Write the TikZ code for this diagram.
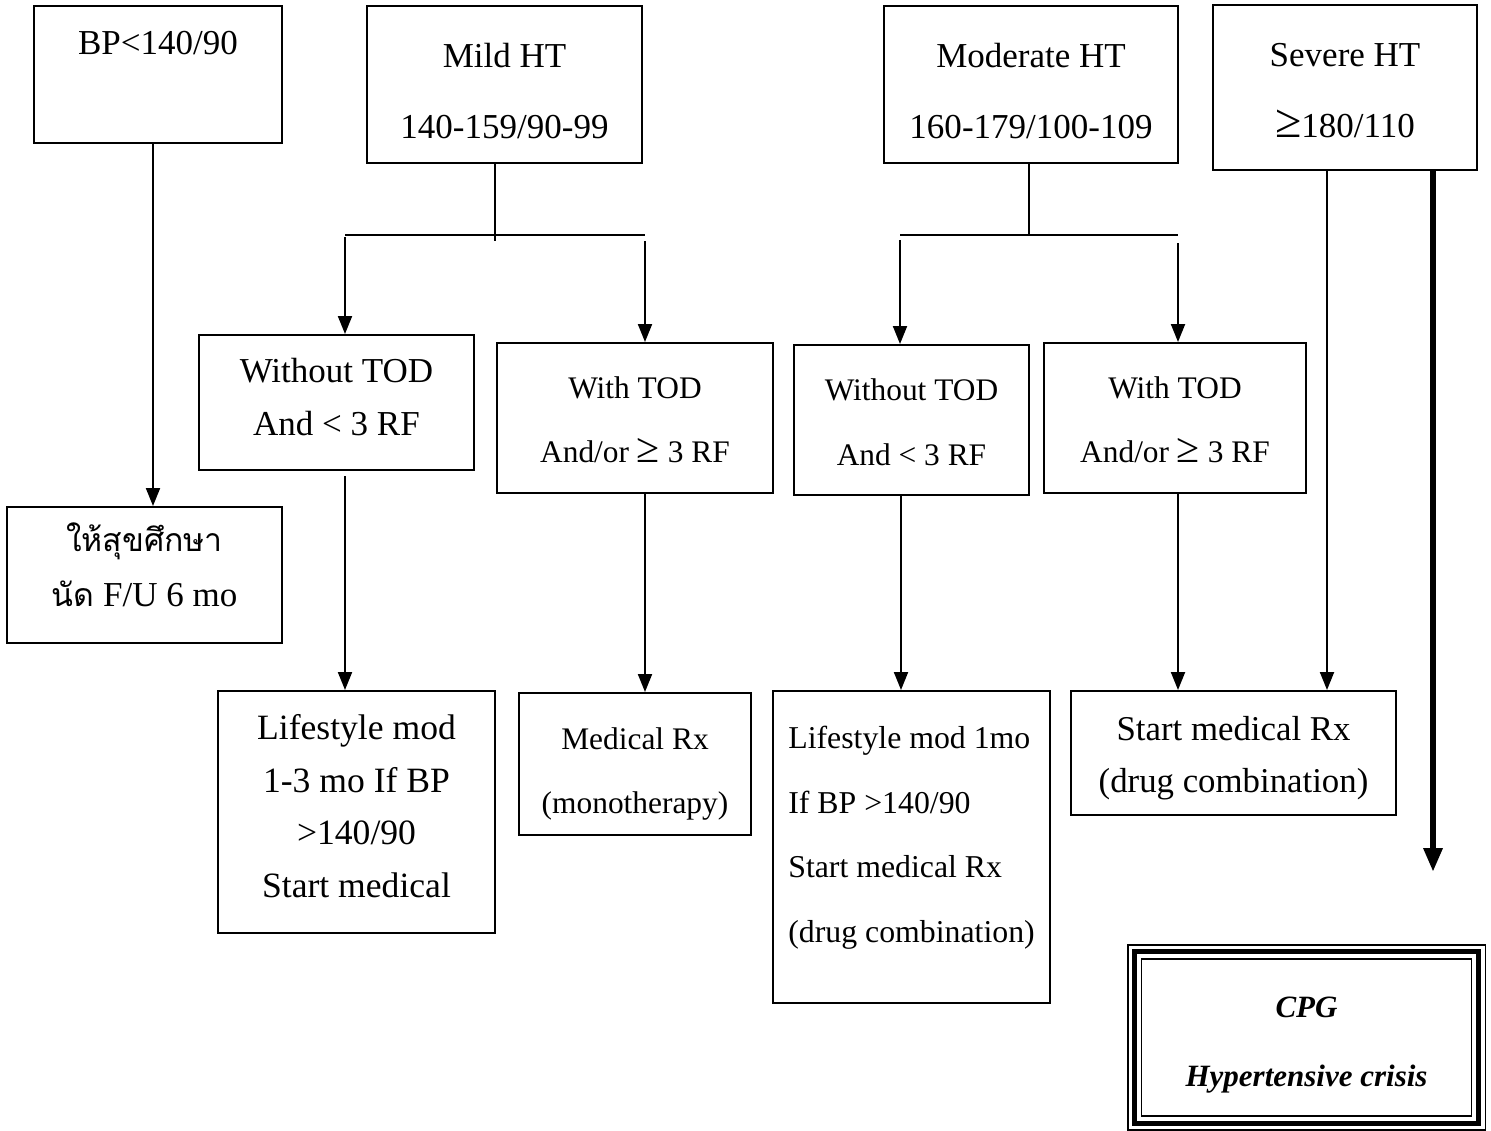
\documentclass[tikz,border=0pt]{standalone}
\usepackage{fontspec}
\setmainfont{Liberation Serif}
\newfontfamily\thaifont[Script=Thai]{Loma}
\usetikzlibrary{arrows.meta}
\newcommand\uprule[1]{\rule{0pt}{#1}}
\newcommand\dnrule[1]{\rule[-#1]{0pt}{0pt}}

\begin{document}
\begin{tikzpicture}[x=0.5pt,y=-0.5pt,
  box/.style={draw,line width=1pt,align=center,inner sep=0pt},
  arr/.style={line width=1pt,-{Triangle[length=9pt,width=7pt]}}]
\useasboundingbox (0,0) rectangle (1491,1130);
\node[box,minimum width=124pt,minimum height=68.5pt,font=\fontsize{17.5}{31.5}\selectfont] (bp) at (158,74.5) {\uprule{13pt}BP<140/90\dnrule{33pt}};
\node[box,minimum width=137.5pt,minimum height=78.5pt,font=\fontsize{17.5}{35.5}\selectfont] (mild) at (504.5,84.5) {\uprule{23.5pt}Mild HT\\140-159/90-99\dnrule{5pt}};
\node[box,minimum width=147pt,minimum height=78.5pt,font=\fontsize{17.5}{35.5}\selectfont] (moderate) at (1031,84.5) {\uprule{23.5pt}Moderate HT\\160-179/100-109\dnrule{5pt}};
\node[box,minimum width=132pt,minimum height=82.5pt,font=\fontsize{17.5}{35.5}\selectfont] (severe) at (1345,87.5) {\uprule{19.5pt}Severe HT\\{\fontsize{24}{0}\selectfont ≥}180/110\dnrule{5pt}};
\node[box,minimum width=137.5pt,minimum height=67.5pt,font=\fontsize{17.5}{26.5}\selectfont] (notod1) at (336.5,402.5) {\uprule{14.5pt}Without TOD\\And < 3 RF\dnrule{8pt}};
\node[box,minimum width=138pt,minimum height=75pt,font=\fontsize{15.7}{32}\selectfont] (withtod1) at (635,418) {\uprule{17.4pt}With TOD\\And/or {\fontsize{21}{0}\selectfont ≥} 3 RF\dnrule{5pt}};
\node[box,minimum width=117.5pt,minimum height=75pt,font=\fontsize{15.7}{32.5}\selectfont] (notod2) at (911.5,420) {\uprule{17.9pt}Without TOD\\And < 3 RF\dnrule{5pt}};
\node[box,minimum width=131pt,minimum height=75pt,font=\fontsize{15.7}{32}\selectfont] (withtod2) at (1175,418) {\uprule{17.4pt}With TOD\\And/or {\fontsize{21}{0}\selectfont ≥} 3 RF\dnrule{5pt}};
\node[box,minimum width=137.5pt,minimum height=68pt,font=\fontsize{17.5}{27.5}\selectfont] (educate) at (144.5,575) {{\thaifont\fontsize{16}{27.5}\selectfont ให้สุขศึกษา}\\{\thaifont\fontsize{16}{27.5}\selectfont นัด} F/U 6 mo\dnrule{10.5pt}};
\node[box,minimum width=138.5pt,minimum height=121pt,font=\fontsize{17.8}{26.2}\selectfont] (lifemod1) at (356.5,812) {\uprule{14.4pt}Lifestyle mod\\1-3 mo If BP\\>140/90\\Start medical\dnrule{8pt}};
\node[box,minimum width=116pt,minimum height=71pt,font=\fontsize{15.7}{32}\selectfont] (monorx) at (635,764) {\uprule{23.4pt}Medical Rx\\(monotherapy)\dnrule{6pt}};
\node[box,align=left,minimum width=138.5pt,minimum height=156pt,font=\fontsize{15.9}{32.3}\selectfont] (lifemod2) at (911.5,847) {\uprule{13.4pt}Lifestyle mod 1mo\\If BP >140/90\\Start medical Rx\\(drug combination)\dnrule{15pt}};
\node[box,minimum width=162.5pt,minimum height=62pt,font=\fontsize{17.4}{26}\selectfont] (comborx) at (1233.5,753) {\uprule{19.5pt}Start medical Rx\\(drug combination)\dnrule{6pt}};
\node[box,line width=0.8pt,minimum width=165pt,minimum height=78.5pt,font=\fontsize{15.5}{34.5}\selectfont\bfseries\itshape] (cpg) at (1306.5,1037.5) {\uprule{20.2pt}CPG\\Hypertensive crisis\dnrule{6pt}};
\draw[line width=2.5pt] ([shift={(-3.25pt,-3.25pt)}]cpg.south west) rectangle ([shift={(3.25pt,3.25pt)}]cpg.north east);
\draw[line width=0.8pt] ([shift={(-6.5pt,-6.5pt)}]cpg.south west) rectangle ([shift={(6.5pt,6.5pt)}]cpg.north east);
\coordinate (m1) at (345,235);
\coordinate (m2) at (645,235);
\coordinate (d1) at (900,235);
\coordinate (d2) at (1178,235);
\coordinate (crisis) at (1433,872);
\draw[arr] ([xshift=-2.5pt]bp.south) -- ([xshift=-2.5pt]bp.south |- educate.north);
\draw[line width=1pt] ([xshift=-4.75pt]mild.south) -- ++(0,77);
\draw[line width=1pt] (m1) -- (m2);
\draw[arr] ([yshift=-1pt]m1) -- (m1 |- notod1.north);
\draw[arr] ([yshift=-3pt]m2) -- (m2 |- withtod1.north);
\draw[line width=1pt] ([xshift=-1pt]moderate.south) -- ++(0,72);
\draw[line width=1pt] (d1) -- (d2);
\draw[arr] ([yshift=-2.5pt]d1) -- (d1 |- notod2.north);
\draw[arr] ([yshift=-4pt]d2) -- (d2 |- withtod2.north);
\draw[arr] ([xshift=-9pt]severe.south) -- ([xshift=-9pt]severe.south |- comborx.north);
\draw[line width=3pt,-{Triangle[length=12pt,width=9pt]}] (severe.south -| crisis) -- (crisis);
\draw[arr] ([xshift=4.25pt,yshift=-2.5pt]notod1.south) -- ([xshift=4.25pt]notod1.south |- lifemod1.north);
\draw[arr] ([xshift=5pt]withtod1.south) -- ([xshift=5pt]withtod1.south |- monorx.north);
\draw[arr] ([xshift=-5.25pt]notod2.south) -- ([xshift=-5.25pt]notod2.south |- lifemod2.north);
\draw[arr] ([xshift=1.5pt]withtod2.south) -- ([xshift=1.5pt]withtod2.south |- comborx.north);
\end{tikzpicture}
\end{document}
